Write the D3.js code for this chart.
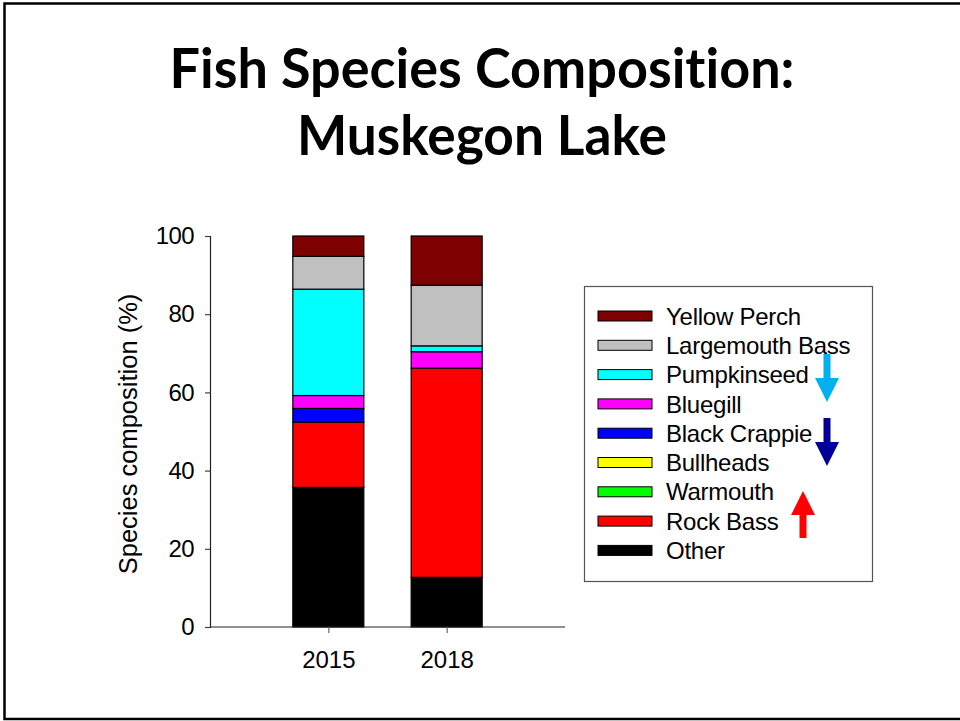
<!DOCTYPE html>
<html>
<head>
<meta charset="utf-8">
<script src="https://cdn.jsdelivr.net/npm/d3@7"></script>
<style>
  html, body { margin: 0; padding: 0; background: #fff; }
  svg { display: block; }
  text.title { font-variant-ligatures: none; font-feature-settings: "liga" 0, "clig" 0; }
</style>
</head>
<body>
<svg id="chart" width="960" height="721"></svg>
<script>
// ---- data ----
const years = ["2015", "2018"];
const species = ["Other", "Rock Bass", "Warmouth", "Bullheads", "Black Crappie",
                 "Bluegill", "Pumpkinseed", "Largemouth Bass", "Yellow Perch"];
const values2015 = [35.7, 16.7, 0, 0, 3.5, 3.3, 27.2, 8.4, 5.2];
const values2018 = [12.7, 53.5, 0, 0, 0, 4.2, 1.5, 15.5, 12.6];
const speciesColors = ["#000000", "#FF0000", "#00FF00", "#FFFF00", "#0000FF",
                       "#FF00FF", "#00FFFF", "#C0C0C0", "#7F0000"];
const yTicks = [0, 20, 40, 60, 80, 100];
const titleLines = ["Fish Species Composition:", "Muskegon Lake"];
const yAxisTitle = "Species composition (%)";
// trend annotations next to legend (species, direction, colour)
const trends = [
  { species: "Pumpkinseed", dir: "down", color: "#00B0F0" },
  { species: "Black Crappie", dir: "down", color: "#000099" },
  { species: "Rock Bass", dir: "up", color: "#FF0000" }
];

// ---- build table ----
const table = years.map((y, i) => {
  const vals = i === 0 ? values2015 : values2018;
  const row = { year: y };
  species.forEach((s, j) => row[s] = vals[j]);
  return row;
});

const svg = d3.select("#chart");
const font = "'Liberation Sans', Arial, sans-serif";

// outer frame
svg.append("rect")
  .attr("x", 4.5).attr("y", 3.5).attr("width", 970).attr("height", 715.5)
  .attr("fill", "none").attr("stroke", "#000").attr("stroke-width", 2.5);

// title
svg.selectAll("text.title").data(titleLines).enter().append("text")
  .attr("class", "title")
  .attr("x", 482)
  .attr("y", (d, i) => 88 + i * 67)
  .attr("text-anchor", "middle")
  .attr("font-family", "Lato, 'Open Sans', sans-serif")
  .attr("font-weight", "bold")
  .attr("font-size", 55)
  .attr("textLength", (d, i) => i === 0 ? 625 : 370)
  .attr("lengthAdjust", "spacingAndGlyphs")
  .attr("fill", "#000")
  .text(d => d);

// scales
const x = d3.scalePoint().domain(years).range([210, 565]).padding(1);
const y = d3.scaleLinear().domain([0, 100]).range([627, 236]);
const color = d3.scaleOrdinal().domain(species).range(speciesColors);
const barW = 71;

// stacked bars
const stack = d3.stack().keys(species)(table);
const g = svg.append("g");
g.selectAll("g.layer").data(stack).enter().append("g")
  .attr("class", "layer")
  .attr("fill", d => color(d.key))
  .selectAll("rect").data(d => d).enter().append("rect")
  .attr("x", d => x(d.data.year) - barW / 2)
  .attr("width", barW)
  .attr("y", d => y(d[1]))
  .attr("height", d => y(d[0]) - y(d[1]))
  .attr("stroke", "#000")
  .attr("stroke-width", 1.2);

// axes
const yAxis = d3.axisLeft(y).tickValues(yTicks).tickSize(5).tickPadding(11);
const yg = svg.append("g").attr("transform", "translate(210,0)").call(yAxis);
yg.select(".domain").attr("stroke", "#222").attr("stroke-width", 1.2);
yg.selectAll(".tick line").attr("stroke", "#444").attr("stroke-width", 1.2);
yg.selectAll(".tick text")
  .attr("font-family", font).attr("font-size", 24).attr("fill", "#000")
  .attr("letter-spacing", -0.6);

const xAxis = d3.axisBottom(x).tickSize(6).tickPadding(18);
const xg = svg.append("g").attr("transform", "translate(0,627)").call(xAxis);
xg.select(".domain").attr("stroke", "#222").attr("stroke-width", 1.2)
  .attr("d", "M210,0H565");
xg.selectAll(".tick line").attr("stroke", "#666").attr("stroke-width", 1.2);
xg.selectAll(".tick text")
  .attr("font-family", font).attr("font-size", 24).attr("fill", "#000");

// y-axis title
svg.append("text")
  .attr("transform", "translate(137,434) rotate(-90)")
  .attr("text-anchor", "middle")
  .attr("font-family", font).attr("font-size", 25.5).attr("fill", "#000")
  .text(yAxisTitle);

// legend
const legendOrder = species.slice().reverse();
svg.append("rect")
  .attr("x", 584.5).attr("y", 286.5).attr("width", 288).attr("height", 295)
  .attr("fill", "#fff").attr("stroke", "#555").attr("stroke-width", 1.2);
const rowY = i => 316 + i * 29.3;
const lg = svg.append("g").selectAll("g").data(legendOrder).enter().append("g")
  .attr("transform", (d, i) => `translate(0,${rowY(i)})`);
lg.append("rect")
  .attr("x", 598).attr("y", -5).attr("width", 54).attr("height", 10)
  .attr("fill", d => color(d)).attr("stroke", "#000").attr("stroke-width", 1);
lg.append("text")
  .attr("x", 666).attr("y", 0).attr("dy", "0.36em")
  .attr("font-family", font).attr("font-size", 24).attr("fill", "#000")
  .attr("letter-spacing", -0.25)
  .text(d => d);

// trend arrows
function arrowPath(cx, top, bottom, dir) {
  const sw = 3.5, hw = 12, hl = 24;
  if (dir === "down") {
    const hs = bottom - hl;
    return `M${cx - sw},${top}H${cx + sw}V${hs}H${cx + hw}L${cx},${bottom}L${cx - hw},${hs}H${cx - sw}Z`;
  } else {
    const he = top + hl;
    return `M${cx - sw},${bottom}H${cx + sw}V${he}H${cx + hw}L${cx},${top}L${cx - hw},${he}H${cx - sw}Z`;
  }
}
const arrowLayout = {
  "Pumpkinseed": { cx: 827, top: 354, bottom: 402 },
  "Black Crappie": { cx: 827, top: 418, bottom: 466 },
  "Rock Bass": { cx: 803, top: 491, bottom: 538 }
};
svg.append("g").selectAll("path").data(trends).enter().append("path")
  .attr("d", d => {
    const a = arrowLayout[d.species];
    return arrowPath(a.cx, a.top, a.bottom, d.dir);
  })
  .attr("fill", d => d.color);
</script>
</body>
</html>
